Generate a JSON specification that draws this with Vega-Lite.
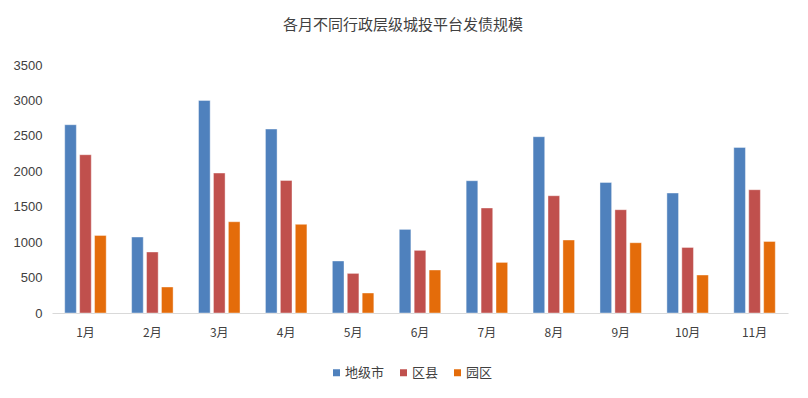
{
  "$schema": "https://vega.github.io/schema/vega-lite/v6.json",
  "width": 736,
  "height": 248,
  "autosize": {"type": "none"},
  "padding": {"left": 52, "top": 65, "right": 20, "bottom": 85},
  "background": "#ffffff",
  "title": {
    "text": "各月不同行政层级城投平台发债规模",
    "font": "Noto Sans CJK SC",
    "fontSize": 15,
    "fontWeight": "normal",
    "color": "#404040",
    "anchor": "middle",
    "offset": 26,
    "dx": -17
  },
  "data": {
    "values": [
      {"month": "1月", "level": "地级市", "value": 2657},
      {"month": "1月", "level": "区县", "value": 2234},
      {"month": "1月", "level": "园区", "value": 1095},
      {"month": "2月", "level": "地级市", "value": 1072},
      {"month": "2月", "level": "区县", "value": 861},
      {"month": "2月", "level": "园区", "value": 367},
      {"month": "3月", "level": "地级市", "value": 3000},
      {"month": "3月", "level": "区县", "value": 1975},
      {"month": "3月", "level": "园区", "value": 1288},
      {"month": "4月", "level": "地级市", "value": 2596},
      {"month": "4月", "level": "区县", "value": 1871},
      {"month": "4月", "level": "园区", "value": 1251},
      {"month": "5月", "level": "地级市", "value": 734},
      {"month": "5月", "level": "区县", "value": 559},
      {"month": "5月", "level": "园区", "value": 282},
      {"month": "6月", "level": "地级市", "value": 1180},
      {"month": "6月", "level": "区县", "value": 884},
      {"month": "6月", "level": "园区", "value": 607},
      {"month": "7月", "level": "地级市", "value": 1867},
      {"month": "7月", "level": "区县", "value": 1482},
      {"month": "7月", "level": "园区", "value": 714},
      {"month": "8月", "level": "地级市", "value": 2488},
      {"month": "8月", "level": "区县", "value": 1655},
      {"month": "8月", "level": "园区", "value": 1030},
      {"month": "9月", "level": "地级市", "value": 1843},
      {"month": "9月", "level": "区县", "value": 1458},
      {"month": "9月", "level": "园区", "value": 992},
      {"month": "10月", "level": "地级市", "value": 1693},
      {"month": "10月", "level": "区县", "value": 926},
      {"month": "10月", "level": "园区", "value": 536},
      {"month": "11月", "level": "地级市", "value": 2337},
      {"month": "11月", "level": "区县", "value": 1740},
      {"month": "11月", "level": "园区", "value": 1010}
    ]
  },
  "mark": {"type": "bar", "stroke": "#ffffff", "strokeOpacity": 0.5, "strokeWidth": 0.8},
  "encoding": {
    "x": {
      "field": "month",
      "type": "nominal",
      "sort": null,
      "scale": {"paddingInner": 0.38, "paddingOuter": 0.19},
      "axis": {
        "title": null,
        "labelAngle": 0,
        "ticks": false,
        "domainColor": "#d9d9d9",
        "domainWidth": 1.2,
        "labelFont": "Noto Sans CJK SC",
        "labelFontSize": 12,
        "labelColor": "#404040",
        "labelPadding": 14
      }
    },
    "xOffset": {
      "field": "level",
      "type": "nominal",
      "sort": ["地级市", "区县", "园区"],
      "scale": {"paddingInner": 0.22}
    },
    "y": {
      "field": "value",
      "type": "quantitative",
      "scale": {"domain": [0, 3500]},
      "axis": {
        "title": null,
        "values": [0, 500, 1000, 1500, 2000, 2500, 3000, 3500],
        "format": "d",
        "grid": false,
        "domain": false,
        "ticks": false,
        "labelFont": "Liberation Sans",
        "labelFontSize": 13,
        "labelColor": "#404040",
        "labelPadding": 10
      }
    },
    "color": {
      "field": "level",
      "type": "nominal",
      "scale": {
        "domain": ["地级市", "区县", "园区"],
        "range": ["#4F81BD", "#C0504D", "#E46C0A"]
      },
      "legend": {
        "title": null,
        "orient": "none",
        "direction": "horizontal",
        "legendX": 278,
        "legendY": 301,
        "symbolType": "square",
        "symbolSize": 49,
        "symbolStrokeWidth": 0,
        "labelFont": "Noto Sans CJK SC",
        "labelFontSize": 13,
        "labelColor": "#404040",
        "labelOffset": 2,
        "columnPadding": 12
      }
    }
  },
  "config": {"view": {"stroke": null}}
}
